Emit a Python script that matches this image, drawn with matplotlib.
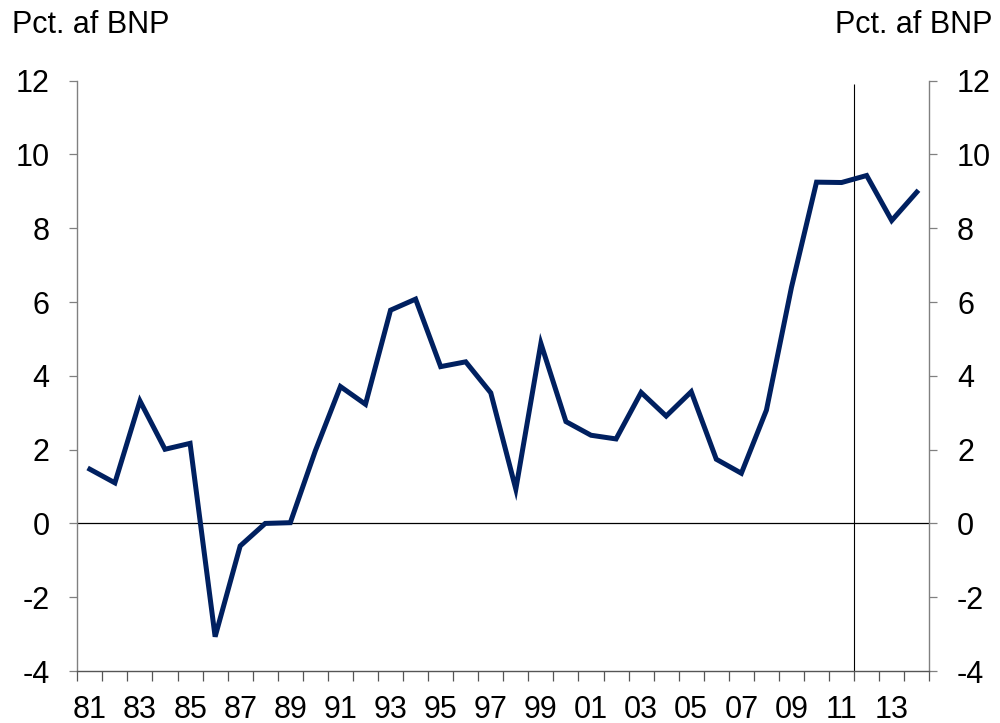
import matplotlib
matplotlib.use("Agg")
import matplotlib.pyplot as plt
import numpy as np

years = list(range(1981, 2015))
values = [1.47, 1.10, 3.32, 2.01, 2.17, -3.07, -0.61, 0.00, 0.02, 1.97,
          3.71, 3.23, 5.78, 6.08, 4.25, 4.38, 3.54, 0.93, 4.88, 2.76,
          2.39, 2.29, 3.55, 2.91, 3.57, 1.74, 1.36, 3.07, 6.4, 9.25,
          9.24, 9.43, 8.21, 8.98]
tick_years = list(range(1981, 2015, 2))
tick_labels = [f"{y % 100:02d}" for y in tick_years]
y_ticks = list(range(-4, 13, 2))
unit_label = "Pct. af BNP"
break_year = 2011.5

plt.rcParams['font.family'] = ['Liberation Sans', 'DejaVu Sans']

fig = plt.figure(figsize=(10, 7.23), dpi=100)
ax = fig.add_axes([0.0773, 0.0719, 0.852, 0.8165])

ax.plot(years, values, color='#002060', lw=3.6, solid_joinstyle='miter', zorder=3)
ax.axhline(0, color='black', lw=0.9, zorder=2)
ax.vlines(break_year, -4, 11.9, color='black', lw=0.8, zorder=2)

ax.set_xlim(1980.5, 2014.5)
ax.set_ylim(-4, 12)

ax.set_xticks(tick_years)
ax.set_xticklabels(tick_labels, fontsize=22)
ax.set_xticks(np.arange(1980.5, 2015, 1), minor=True)
ax.tick_params(axis='x', which='major', length=0, pad=17)
ax.tick_params(axis='x', which='minor', length=7, width=0.9, color='#555555', direction='out')

ax.set_yticks(y_ticks)
ax.set_yticklabels([str(v) for v in y_ticks], fontsize=22)
ax.tick_params(axis='y', which='major', length=6, width=0.9, color='#808080',
               direction='out', pad=14, labelright=True, right=True)

for s in ['left', 'right']:
    ax.spines[s].set_color('#808080')
    ax.spines[s].set_linewidth(1.0)
ax.spines['bottom'].set_color('#555555')
ax.spines['bottom'].set_linewidth(1.0)
ax.spines['top'].set_visible(False)

fig.text(0.012, 0.955, unit_label, fontsize=22, ha='left', va='baseline')
fig.text(0.992, 0.955, unit_label, fontsize=22, ha='right', va='baseline')

fig.savefig('out.png', dpi=100)
